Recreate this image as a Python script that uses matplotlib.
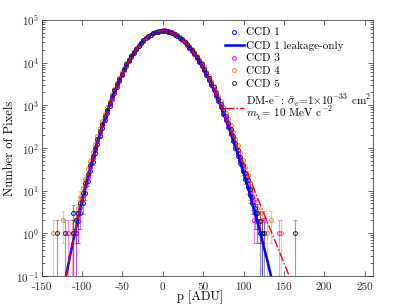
import numpy as np
import matplotlib
matplotlib.use('Agg')
import matplotlib.pyplot as plt

plt.rcParams['font.family'] = ['cmr10', 'DejaVu Serif']
plt.rcParams['mathtext.fontset'] = 'cm'
plt.rcParams['axes.formatter.use_mathtext'] = True
plt.rcParams['axes.unicode_minus'] = False

# ---- data (log10 of counts) ----
p_bins = list(range(-105, 121, 3))

ccd1_log = [0.30, 0.48, 0.70, 0.95, 1.22, 1.45, 1.68, 1.89, 2.09, 2.29,
            2.47, 2.65, 2.82, 2.99, 3.14, 3.29, 3.43, 3.57, 3.70, 3.82,
            3.93, 4.04, 4.13, 4.22, 4.31, 4.38, 4.45, 4.51, 4.57, 4.61,
            4.65, 4.69, 4.71, 4.73, 4.74, 4.75,
            4.74, 4.73, 4.71, 4.69, 4.66, 4.62, 4.58, 4.53, 4.48, 4.42,
            4.35, 4.28, 4.20, 4.11, 4.02, 3.92, 3.82, 3.71, 3.60, 3.48,
            3.36, 3.23, 3.09, 2.95, 2.80, 2.65, 2.49, 2.33, 2.17, 2.00,
            1.82, 1.64, 1.46, 1.27, 1.08, 0.90, 0.70, 0.48, 0.30, 0.00]
ccd3_log = [0.30, 0.60, 0.88, 1.11, 1.33, 1.55, 1.76, 1.96, 2.16, 2.34,
            2.53, 2.70, 2.87, 3.03, 3.18, 3.33, 3.46, 3.60, 3.72, 3.84,
            3.95, 4.05, 4.15, 4.24, 4.32, 4.39, 4.46, 4.52, 4.58, 4.62,
            4.66, 4.70, 4.72, 4.74, 4.75, 4.77,
            4.76, 4.75, 4.73, 4.71, 4.68, 4.64, 4.59, 4.54, 4.49, 4.43,
            4.36, 4.29, 4.21, 4.13, 4.04, 3.94, 3.84, 3.74, 3.63, 3.51,
            3.39, 3.26, 3.13, 2.99, 2.85, 2.70, 2.55, 2.39, 2.23, 2.06,
            1.89, 1.71, 1.53, 1.34, 1.15, 0.95, 0.78, 0.60, 0.30, 0.30]
ccd4_log = [0.60, 0.85, 1.06, 1.28, 1.50, 1.70, 1.90, 2.10, 2.28, 2.46,
            2.63, 2.80, 2.96, 3.11, 3.26, 3.39, 3.53, 3.65, 3.77, 3.88,
            3.99, 4.08, 4.18, 4.26, 4.34, 4.41, 4.47, 4.53, 4.58, 4.63,
            4.66, 4.69, 4.72, 4.73, 4.74, 4.75,
            4.75, 4.74, 4.72, 4.70, 4.67, 4.64, 4.60, 4.55, 4.50, 4.44,
            4.38, 4.31, 4.24, 4.16, 4.08, 3.99, 3.89, 3.79, 3.69, 3.58,
            3.46, 3.34, 3.22, 3.09, 2.96, 2.82, 2.67, 2.53, 2.37, 2.22,
            2.06, 1.89, 1.72, 1.55, 1.37, 1.18, 1.00, 0.78, 0.60, 0.48]
ccd5_log = [0.48, 0.70, 0.95, 1.17, 1.39, 1.61, 1.81, 2.01, 2.20, 2.39,
            2.57, 2.74, 2.90, 3.06, 3.21, 3.35, 3.49, 3.62, 3.74, 3.85,
            3.96, 4.06, 4.16, 4.25, 4.32, 4.40, 4.46, 4.52, 4.58, 4.62,
            4.66, 4.69, 4.72, 4.73, 4.74, 4.75,
            4.75, 4.74, 4.72, 4.70, 4.67, 4.63, 4.59, 4.55, 4.49, 4.43,
            4.37, 4.30, 4.22, 4.14, 4.05, 3.96, 3.86, 3.76, 3.65, 3.53,
            3.42, 3.29, 3.16, 3.03, 2.89, 2.74, 2.59, 2.44, 2.28, 2.12,
            1.95, 1.78, 1.60, 1.42, 1.24, 1.05, 0.85, 0.60, 0.48, 0.30]

# sparse tail points (counts)
ccd1_tail_p = [-111, -108, 123]
ccd1_tail_n = [3, 1, 1]
ccd3_tail_p = [-117, -111, -108, 113, 126, 144]
ccd3_tail_n = [1, 1, 1, 2, 2, 1]
ccd4_tail_p = [-136, -124, -113, -108, 123, 129, 134, 147]
ccd4_tail_n = [1, 2, 1, 2, 2, 1, 2, 1]
ccd5_tail_p = [-131, -121, -111, -108, 123, 126, 164]
ccd5_tail_n = [1, 1, 1, 2, 1, 1, 1]

# leakage-only model (log10)
model_p = list(range(-120, 136, 3))
model_log = [-1.01, -0.73, -0.45, -0.18, 0.08, 0.34, 0.59, 0.83, 1.06, 1.29,
             1.51, 1.72, 1.93, 2.12, 2.31, 2.50, 2.67, 2.84, 3.01, 3.16,
             3.31, 3.45, 3.58, 3.71, 3.83, 3.94, 4.04, 4.14, 4.23, 4.31,
             4.39, 4.46, 4.52, 4.57, 4.62, 4.66, 4.69, 4.72, 4.73, 4.74, 4.75,
             4.75, 4.74, 4.72, 4.70, 4.67, 4.63, 4.59, 4.54, 4.48, 4.42,
             4.36, 4.28, 4.20, 4.12, 4.03, 3.93, 3.83, 3.72, 3.61, 3.49,
             3.37, 3.24, 3.11, 2.97, 2.82, 2.67, 2.52, 2.36, 2.19, 2.02,
             1.85, 1.67, 1.48, 1.30, 1.10, 0.91, 0.70, 0.50, 0.29, 0.07,
             -0.15, -0.38, -0.60, -0.84, -1.07]

# DM-e model (log10)
dm_p = list(range(-120, 160, 3))
dm_log = [-1.01, -0.73, -0.45, -0.18, 0.08, 0.34, 0.59, 0.83, 1.06, 1.29,
          1.51, 1.72, 1.93, 2.12, 2.31, 2.50, 2.67, 2.84, 3.01, 3.16,
          3.31, 3.45, 3.58, 3.71, 3.83, 3.94, 4.04, 4.14, 4.23, 4.31,
          4.39, 4.46, 4.52, 4.57, 4.62, 4.66, 4.69, 4.72, 4.73, 4.74, 4.75,
          4.75, 4.74, 4.72, 4.70, 4.67, 4.63, 4.59, 4.54, 4.48, 4.42,
          4.36, 4.28, 4.20, 4.12, 4.03, 3.93, 3.83, 3.72, 3.61, 3.49,
          3.37, 3.24, 3.11, 2.97, 2.82, 2.67,
          2.54, 2.40, 2.26, 2.11, 1.97, 1.83, 1.69, 1.55, 1.41, 1.27,
          1.13, 0.99, 0.85, 0.71, 0.57, 0.43, 0.29, 0.15, 0.01, -0.13,
          -0.27, -0.41, -0.55, -0.69, -0.83, -0.97, -1.11]

labels = ['CCD 1', 'CCD 1 leakage-only', 'CCD 3', 'CCD 4', 'CCD 5',
          'DM-e$^{-}$: $\\bar{\\sigma}_e$=1$\\times$10$^{-33}$ cm$^2$\n$m_\\chi$= 10 MeV c$^{-2}$']

c_blue = '#0000FF'
c_mag = '#FF00FF'
c_orange = '#E5823A'
c_black = '#222222'
c_red = '#FF0000'

fig = plt.figure(figsize=(3.99, 3.08), dpi=100)
ax = fig.add_axes([0.1045, 0.104, 0.8295, 0.831])
ax.set_yscale('log')

series = [(ccd1_log, ccd1_tail_p, ccd1_tail_n, c_blue),
          (ccd3_log, ccd3_tail_p, ccd3_tail_n, c_mag),
          (ccd4_log, ccd4_tail_p, ccd4_tail_n, c_orange),
          (ccd5_log, ccd5_tail_p, ccd5_tail_n, c_black)]
handles_pts = []
for lg, tp, tn, col in series:
    pp = np.concatenate([np.array(p_bins, float), np.array(tp, float)])
    nn = np.concatenate([10 ** np.array(lg), np.array(tn, float)])
    err = np.sqrt(nn)
    low = nn - np.maximum(nn - err, 1e-3)
    ax.errorbar(pp, nn, yerr=[low, err], fmt='none', ecolor=col,
                elinewidth=0.8, capsize=1.2, capthick=0.6, alpha=0.45, zorder=2)
    h, = ax.plot(pp, nn, 'o', mfc='none', mec=col, ms=2.8, mew=0.7, ls='none', zorder=3)
    handles_pts.append(h)

hl, = ax.plot(model_p, 10 ** np.array(model_log), '-', color=c_blue, lw=1.8, zorder=4)
hd, = ax.plot(dm_p, 10 ** np.array(dm_log), '-.', color=c_red, lw=1.0, zorder=5)

ax.set_xlim(-150, 260)
ax.set_ylim(0.1, 1e5)
ax.set_xticks([-150, -100, -50, 0, 50, 100, 150, 200, 250])
ax.set_xticklabels(['-150', '-100', '-50', '0', '50', '100', '150', '200', '250'])
ax.tick_params(which='both', direction='in', top=True, right=True,
               labelsize=8, colors='#262626', width=0.5, pad=2)
ax.tick_params(axis='x', pad=4.5)
ax.tick_params(which='major', length=3.5)
ax.tick_params(which='minor', length=2)
for s in ax.spines.values():
    s.set_linewidth(0.5)
    s.set_color('#262626')

ax.set_xlabel('p [ADU]', fontsize=9)
ax.set_ylabel('Number of Pixels', fontsize=9)
ax.xaxis.set_label_coords(0.48, -0.058)
ax.yaxis.set_label_coords(-0.078, 0.5)

handles = [handles_pts[0], hl, handles_pts[1], handles_pts[2], handles_pts[3], hd]
leg = ax.legend(handles, labels, loc='upper left', bbox_to_anchor=(0.554, 0.97),
                frameon=False, fontsize=8, handlelength=1.7, handletextpad=0.15,
                labelspacing=0.28, borderpad=0, borderaxespad=0, numpoints=1)
leg.get_texts()[5].set_linespacing(0.7)

fig.savefig('out.png', dpi=100)
